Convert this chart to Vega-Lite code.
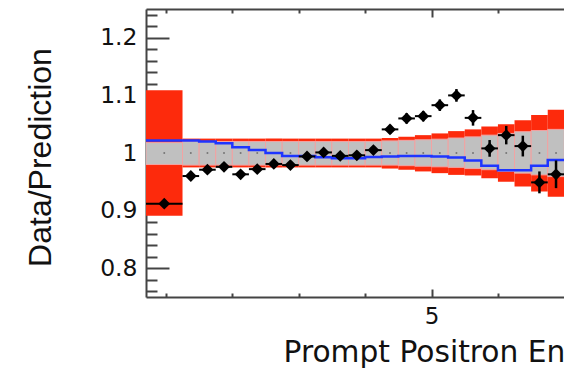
{
  "$schema": "https://vega.github.io/schema/vega-lite/v6.json",
  "width": 418,
  "height": 288,
  "autosize": {"type": "none"},
  "padding": {"left": 146, "top": 9, "right": 0, "bottom": 75},
  "background": "white",
  "config": {
    "view": {"stroke": null},
    "axis": {"grid": false, "domainColor": "#444444", "tickColor": "#444444", "labelColor": "#111111", "titleColor": "#111111"}
  },
  "datasets": {
    "bins": [
      {"lo": 0.7, "hi": 1.25, "c": 0.975, "rlo": 0.891, "rhi": 1.109, "glo": 0.980, "ghi": 1.018, "d": 0.912, "dlo": 0.906, "dhi": 0.918},
      {"lo": 1.25, "hi": 1.5, "c": 1.375, "rlo": 0.975, "rhi": 1.025, "glo": 0.979, "ghi": 1.020, "d": 0.960, "dlo": 0.955, "dhi": 0.965},
      {"lo": 1.5, "hi": 1.75, "c": 1.625, "rlo": 0.975, "rhi": 1.025, "glo": 0.979, "ghi": 1.020, "d": 0.971, "dlo": 0.966, "dhi": 0.976},
      {"lo": 1.75, "hi": 2.0, "c": 1.875, "rlo": 0.975, "rhi": 1.025, "glo": 0.979, "ghi": 1.020, "d": 0.976, "dlo": 0.971, "dhi": 0.981},
      {"lo": 2.0, "hi": 2.25, "c": 2.125, "rlo": 0.975, "rhi": 1.025, "glo": 0.979, "ghi": 1.020, "d": 0.963, "dlo": 0.958, "dhi": 0.968},
      {"lo": 2.25, "hi": 2.5, "c": 2.375, "rlo": 0.975, "rhi": 1.025, "glo": 0.979, "ghi": 1.020, "d": 0.972, "dlo": 0.967, "dhi": 0.977},
      {"lo": 2.5, "hi": 2.75, "c": 2.625, "rlo": 0.975, "rhi": 1.025, "glo": 0.979, "ghi": 1.020, "d": 0.981, "dlo": 0.976, "dhi": 0.986},
      {"lo": 2.75, "hi": 3.0, "c": 2.875, "rlo": 0.975, "rhi": 1.025, "glo": 0.979, "ghi": 1.020, "d": 0.979, "dlo": 0.974, "dhi": 0.984},
      {"lo": 3.0, "hi": 3.25, "c": 3.125, "rlo": 0.975, "rhi": 1.025, "glo": 0.979, "ghi": 1.020, "d": 0.994, "dlo": 0.989, "dhi": 0.999},
      {"lo": 3.25, "hi": 3.5, "c": 3.375, "rlo": 0.975, "rhi": 1.025, "glo": 0.979, "ghi": 1.020, "d": 1.001, "dlo": 0.996, "dhi": 1.006},
      {"lo": 3.5, "hi": 3.75, "c": 3.625, "rlo": 0.975, "rhi": 1.025, "glo": 0.979, "ghi": 1.020, "d": 0.995, "dlo": 0.990, "dhi": 1.000},
      {"lo": 3.75, "hi": 4.0, "c": 3.875, "rlo": 0.975, "rhi": 1.025, "glo": 0.979, "ghi": 1.020, "d": 0.996, "dlo": 0.991, "dhi": 1.001},
      {"lo": 4.0, "hi": 4.25, "c": 4.125, "rlo": 0.975, "rhi": 1.025, "glo": 0.979, "ghi": 1.020, "d": 1.005, "dlo": 0.999, "dhi": 1.011},
      {"lo": 4.25, "hi": 4.5, "c": 4.375, "rlo": 0.973, "rhi": 1.026, "glo": 0.979, "ghi": 1.021, "d": 1.041, "dlo": 1.033, "dhi": 1.049},
      {"lo": 4.5, "hi": 4.75, "c": 4.625, "rlo": 0.971, "rhi": 1.028, "glo": 0.978, "ghi": 1.022, "d": 1.060, "dlo": 1.051, "dhi": 1.069},
      {"lo": 4.75, "hi": 5.0, "c": 4.875, "rlo": 0.968, "rhi": 1.031, "glo": 0.977, "ghi": 1.023, "d": 1.064, "dlo": 1.055, "dhi": 1.073},
      {"lo": 5.0, "hi": 5.25, "c": 5.125, "rlo": 0.965, "rhi": 1.034, "glo": 0.976, "ghi": 1.024, "d": 1.083, "dlo": 1.073, "dhi": 1.093},
      {"lo": 5.25, "hi": 5.5, "c": 5.375, "rlo": 0.962, "rhi": 1.038, "glo": 0.975, "ghi": 1.026, "d": 1.100, "dlo": 1.089, "dhi": 1.111},
      {"lo": 5.5, "hi": 5.75, "c": 5.625, "rlo": 0.961, "rhi": 1.041, "glo": 0.973, "ghi": 1.028, "d": 1.061, "dlo": 1.0475, "dhi": 1.0745},
      {"lo": 5.75, "hi": 6.0, "c": 5.875, "rlo": 0.956, "rhi": 1.046, "glo": 0.971, "ghi": 1.031, "d": 1.008, "dlo": 0.9935, "dhi": 1.0225},
      {"lo": 6.0, "hi": 6.25, "c": 6.125, "rlo": 0.950, "rhi": 1.050, "glo": 0.968, "ghi": 1.034, "d": 1.031, "dlo": 1.015, "dhi": 1.047},
      {"lo": 6.25, "hi": 6.5, "c": 6.375, "rlo": 0.942, "rhi": 1.057, "glo": 0.965, "ghi": 1.037, "d": 1.012, "dlo": 0.994, "dhi": 1.030},
      {"lo": 6.5, "hi": 6.75, "c": 6.625, "rlo": 0.933, "rhi": 1.066, "glo": 0.962, "ghi": 1.039, "d": 0.949, "dlo": 0.930, "dhi": 0.968},
      {"lo": 6.75, "hi": 7.0, "c": 6.875, "rlo": 0.924, "rhi": 1.075, "glo": 0.959, "ghi": 1.041, "d": 0.963, "dlo": 0.939, "dhi": 0.987}
    ],
    "blue": [
      {"e": 0.7, "b": 1.0215}, {"e": 1.25, "b": 1.0215}, {"e": 1.5, "b": 1.0198}, {"e": 1.75, "b": 1.017},
      {"e": 2.0, "b": 1.010}, {"e": 2.25, "b": 1.0054}, {"e": 2.5, "b": 1.000}, {"e": 2.75, "b": 0.995},
      {"e": 3.0, "b": 0.995}, {"e": 3.25, "b": 0.9925}, {"e": 3.5, "b": 0.991}, {"e": 3.75, "b": 0.991},
      {"e": 4.0, "b": 0.993}, {"e": 4.25, "b": 0.994}, {"e": 4.5, "b": 0.995}, {"e": 4.75, "b": 0.995},
      {"e": 5.0, "b": 0.994}, {"e": 5.25, "b": 0.992}, {"e": 5.5, "b": 0.987}, {"e": 5.75, "b": 0.978},
      {"e": 6.0, "b": 0.970}, {"e": 6.25, "b": 0.970}, {"e": 6.5, "b": 0.978}, {"e": 6.75, "b": 0.988},
      {"e": 7.0, "b": 0.988}
    ]
  },
  "data": {"name": "bins"},
  "layer": [
    {
      "mark": {"type": "rect", "color": "#fd2a0c", "clip": true},
      "encoding": {
        "x": {"field": "lo", "type": "quantitative", "scale": {"domain": [0.7, 6.995], "nice": false, "zero": false},
          "axis": {"orient": "bottom", "values": [5], "ticks": false, "domain": true, "domainWidth": 2, "labels": true, "labelFont": "DejaVu Sans", "labelFontSize": 23, "labelPadding": 8, "labelFlush": false,
            "title": "Prompt Positron Energy (MeV)", "titleFont": "DejaVu Sans", "titleFontSize": 29.7, "titleFontWeight": "normal", "titleAnchor": "start", "titleAlign": "left", "titleX": 137, "titleY": 64, "titleBaseline": "alphabetic"}},
        "x2": {"field": "hi"},
        "y": {"field": "rlo", "type": "quantitative", "scale": {"domain": [0.75, 1.25], "nice": false, "zero": false},
          "axis": {"orient": "left", "values": [0.8, 0.9, 1, 1.1, 1.2], "format": "~g", "ticks": false, "domain": true, "domainWidth": 2, "labelFont": "DejaVu Sans", "labelFontSize": 23.5, "labelPadding": 9, "labelFlush": false,
            "title": "Data/Prediction", "titleFont": "Liberation Sans", "titleFontSize": 32, "titleFontWeight": "normal", "titleAngle": -90, "titleAlign": "center", "titleBaseline": "alphabetic", "titleX": -96, "titleY": 148}},
        "y2": {"field": "rhi"}
      }
    },
    {
      "mark": {"type": "rect", "fill": "#c0c0c0", "stroke": "#f2a3a3", "strokeWidth": 1, "clip": true},
      "encoding": {
        "x": {"field": "lo", "type": "quantitative", "axis": null},
        "x2": {"field": "hi"},
        "y": {"field": "glo", "type": "quantitative", "axis": null},
        "y2": {"field": "ghi"}
      }
    },
    {
      "mark": {"type": "point", "filled": true, "size": 4, "color": "#555555", "clip": true},
      "encoding": {
        "x": {"field": "c", "type": "quantitative", "axis": null},
        "y": {"datum": 1, "type": "quantitative", "axis": null}
      }
    },
    {
      "data": {"name": "blue"},
      "mark": {"type": "line", "interpolate": "step-after", "color": "#1e35ff", "strokeWidth": 2.5, "clip": true},
      "encoding": {
        "x": {"field": "e", "type": "quantitative", "axis": null},
        "y": {"field": "b", "type": "quantitative", "axis": null}
      }
    },
    {
      "mark": {"type": "rule", "color": "black", "strokeWidth": 2, "clip": true},
      "encoding": {
        "x": {"field": "lo", "type": "quantitative", "axis": null},
        "x2": {"field": "hi"},
        "y": {"field": "d", "type": "quantitative", "axis": null}
      }
    },
    {
      "mark": {"type": "rule", "color": "black", "strokeWidth": 2.5, "clip": true},
      "encoding": {
        "x": {"field": "c", "type": "quantitative", "axis": null},
        "y": {"field": "dlo", "type": "quantitative", "axis": null},
        "y2": {"field": "dhi"}
      }
    },
    {
      "mark": {"type": "point", "shape": "diamond", "filled": true, "size": 140, "color": "black", "opacity": 1, "clip": true},
      "encoding": {
        "x": {"field": "c", "type": "quantitative", "axis": null},
        "y": {"field": "d", "type": "quantitative", "axis": null}
      }
    },
    {
      "mark": {"type": "point", "opacity": 0},
      "encoding": {
        "x": {"field": "c", "type": "quantitative", "scale": {"domain": [0.7, 6.995], "nice": false, "zero": false},
          "axis": {"orient": "bottom", "values": [5], "tickSize": -8, "tickWidth": 2, "labels": false, "domain": false, "title": null}},
        "y": {"field": "d", "type": "quantitative", "scale": {"domain": [0.75, 1.25], "nice": false, "zero": false},
          "axis": {"orient": "left", "values": [0.8, 0.9, 1, 1.1, 1.2], "tickSize": -23, "tickWidth": 2, "labels": false, "domain": false, "title": null}}
      }
    },
    {
      "mark": {"type": "point", "opacity": 0},
      "encoding": {
        "x": {"field": "c", "type": "quantitative", "scale": {"domain": [0.7, 6.995], "nice": false, "zero": false},
          "axis": {"orient": "bottom", "values": [1, 2, 3, 4, 6], "tickSize": -4, "tickWidth": 2, "labels": false, "domain": false, "title": null}},
        "y": {"field": "d", "type": "quantitative", "scale": {"domain": [0.75, 1.25], "nice": false, "zero": false},
          "axis": {"orient": "left", "values": [0.76, 0.78, 0.82, 0.84, 0.86, 0.88, 0.92, 0.94, 0.96, 0.98, 1.02, 1.04, 1.06, 1.08, 1.12, 1.14, 1.16, 1.18, 1.22, 1.24], "tickSize": -11, "tickWidth": 2, "labels": false, "domain": false, "title": null}}
      }
    },
    {
      "mark": {"type": "point", "opacity": 0},
      "encoding": {
        "x": {"field": "c", "type": "quantitative", "scale": {"domain": [0.7, 6.995], "nice": false, "zero": false},
          "axis": {"orient": "top", "values": [1, 2, 3, 4, 6], "tickSize": -4, "tickWidth": 2, "labels": false, "domain": true, "domainWidth": 2, "title": null}},
        "y": {"field": "d", "type": "quantitative", "scale": {"domain": [0.75, 1.25], "nice": false, "zero": false}, "axis": null}
      }
    },
    {
      "mark": {"type": "point", "opacity": 0},
      "encoding": {
        "x": {"field": "c", "type": "quantitative", "scale": {"domain": [0.7, 6.995], "nice": false, "zero": false},
          "axis": {"orient": "top", "values": [5], "tickSize": -8, "tickWidth": 2, "labels": false, "domain": false, "title": null}},
        "y": {"field": "d", "type": "quantitative", "scale": {"domain": [0.75, 1.25], "nice": false, "zero": false}, "axis": null}
      }
    }
  ],
  "resolve": {"axis": {"x": "independent", "y": "independent"}}
}
